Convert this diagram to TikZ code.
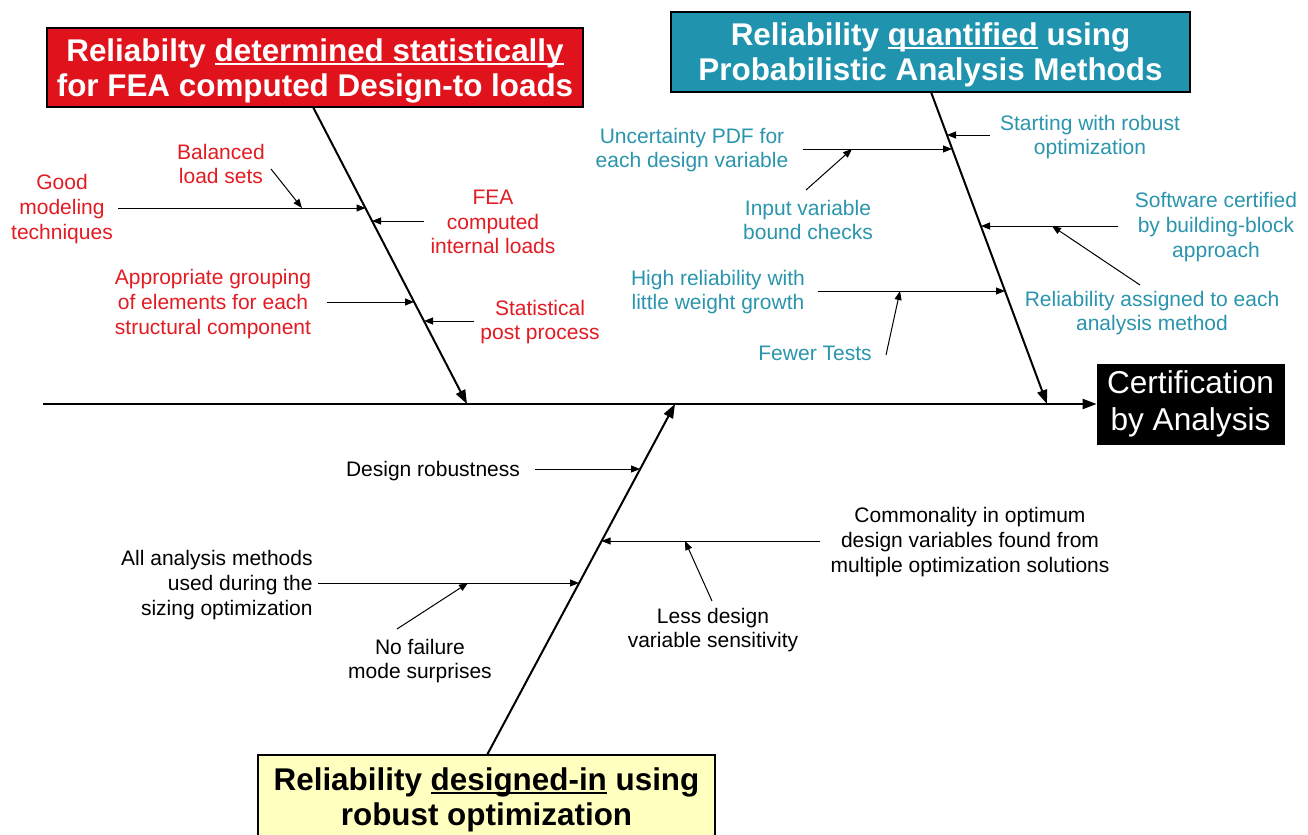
\documentclass[tikz,border=0pt]{standalone}
\usepackage{fontspec}
\setmainfont{Liberation Sans}
\usetikzlibrary{arrows.meta}
\definecolor{redc}{HTML}{E31B23}
\definecolor{redbox}{HTML}{E0131D}
\definecolor{tealbox}{HTML}{2094AE}
\definecolor{tealtxt}{HTML}{2A95AD}
\definecolor{yell}{HTML}{FFFFC0}
\newsavebox\ulbox
\newcommand\myul[1]{\sbox\ulbox{#1}\rlap{\rule[-1.7pt]{\wd\ulbox}{0.9pt}}\usebox\ulbox}
\newcommand\topstrut{\rule{0pt}{14.5pt}}
\tikzset{
 lbl/.style={align=center, font=\fontsize{10.5}{12.3}\selectfont, inner sep=0pt, yshift=-1pt},
 redlbl/.style={lbl, text=redc},
 teallbl/.style={lbl, text=tealtxt},
 blklbl/.style={lbl, text=black},
 titlebox/.style={draw=black, line width=1pt, align=center, font=\bfseries\fontsize{15.7}{17.5}\selectfont, inner sep=0pt},
 spine/.style={line width=1pt, -{Triangle[length=7pt,width=5pt]}},
 branch/.style={line width=0.5pt, -{Triangle[length=4.5pt,width=3.5pt]}},
}
\begin{document}
\begin{tikzpicture}[x=0.5pt,y=-0.5pt]
\useasboundingbox[fill=white] (0,0) rectangle (1308,835);

% title boxes
\node[titlebox, fill=redbox, text=white, minimum width=268pt, minimum height=39.5pt] (redt) at (315,67.5)
 {\topstrut Reliabilty \myul{determined statistically}\\for FEA computed Design-to loads};
\node[titlebox, fill=tealbox, text=white, minimum width=259.5pt, minimum height=40pt] (tealt) at (930.5,52)
 {\topstrut Reliability \myul{quantified} using\\Probabilistic Analysis Methods};
\node[titlebox, fill=yell, text=black, minimum width=228.5pt, minimum height=41.5pt] (yelt) at (486.5,796.5)
 {\topstrut Reliability \myul{designed-in} using\\robust optimization};
\node[draw=black, fill=black, text=white, align=center, inner sep=0pt, minimum width=93.5pt, minimum height=40pt,
 font=\fontsize{15.8}{18.5}\selectfont] (cert) at (1190.5,404) {Certification\\by Analysis};

% spines
\coordinate (mainstart) at (43,404);
\coordinate (rs) at (313,107);  \coordinate (re) at (467,404);
\coordinate (ts) at (931,92);   \coordinate (te) at (1047,404);
\coordinate (bs) at (487,755);  \coordinate (be) at (675,404);
\draw[spine] (mainstart) -- (cert.west);
\draw[spine] (rs) -- (re);
\draw[spine] (ts) -- (te);
\draw[spine] (bs) -- (be);

% red labels
\node[redlbl] (bal) at (221,162) {Balanced\\load sets};
\node[redlbl] (good) at (62,207) {Good\\modeling\\techniques};
\node[redlbl] (fea) at (493,220) {FEA\\computed\\internal loads};
\node[redlbl] (app) at (213,302) {Appropriate grouping\\of elements for each\\structural component};
\node[redlbl] (stat) at (540,320) {Statistical\\post process};

\coordinate (g0) at (118,208);  \coordinate (g1) at (365.5,208);
\coordinate (b0) at (271,169);  \coordinate (b1) at (302,208);
\coordinate (f0) at (424,221);  \coordinate (f1) at (372,221);
\coordinate (a0) at (327,302);  \coordinate (a1) at (414,302);
\coordinate (s0) at (474,321);  \coordinate (s1) at (424,321);
\draw[branch] (g0) -- (g1);
\draw[branch] (b0) -- (b1);
\draw[branch] (f0) -- (f1);
\draw[branch] (a0) -- (a1);
\draw[branch] (s0) -- (s1);

% teal labels
\node[teallbl] (start) at (1090,135) {Starting with robust\\optimization};
\node[teallbl] (unc) at (692,148) {Uncertainty PDF for\\each design variable};
\node[teallbl] (inp) at (808,218) {Input variable\\bound checks};
\node[teallbl] (soft) at (1216,225) {Software certified\\by building-block\\approach};
\node[teallbl] (rel) at (1152,311) {Reliability assigned to each\\analysis method};
\node[teallbl] (high) at (718,290) {High reliability with\\little weight growth};
\node[teallbl] (few) at (815,351) {Fewer Tests};

\coordinate (st0) at (990,135);  \coordinate (st1) at (947,135);
\coordinate (u0) at (803,149);   \coordinate (u1) at (952,149);
\coordinate (i0) at (806,190);   \coordinate (i1) at (852,149);
\coordinate (so0) at (1118,226); \coordinate (so1) at (981,226);
\coordinate (r0) at (1140,285);  \coordinate (r1) at (1052,226);
\coordinate (h0) at (818,291);   \coordinate (h1) at (1005,291);
\coordinate (fe0) at (886,355);  \coordinate (fe1) at (900,291);
\draw[branch] (st0) -- (st1);
\draw[branch] (u0) -- (u1);
\draw[branch] (i0) -- (i1);
\draw[branch] (so0) -- (so1);
\draw[branch] (r0) -- (r1);
\draw[branch] (h0) -- (h1);
\draw[branch] (fe0) -- (fe1);

% black labels
\node[blklbl] (rob) at (433,469) {Design robustness};
\node[blklbl] (com) at (970,540) {Commonality in optimum\\design variables found from\\multiple optimization solutions};
\node[blklbl] (less) at (713,628) {Less design\\variable sensitivity};
\node[blklbl, align=right, anchor=east] (all) at (313,583) {All analysis methods\\used during the\\sizing optimization};
\node[blklbl] (nof) at (420,659) {No failure\\mode surprises};

\coordinate (d0) at (535,469);  \coordinate (d1) at (640,469);
\coordinate (c0) at (820,541);  \coordinate (c1) at (601.6,541);
\coordinate (l0) at (712,601);  \coordinate (l1) at (685,541);
\coordinate (al0) at (318,583); \coordinate (al1) at (579,583);
\coordinate (n0) at (397,629);  \coordinate (n1) at (468,583);
\draw[branch] (d0) -- (d1);
\draw[branch] (c0) -- (c1);
\draw[branch] (l0) -- (l1);
\draw[branch] (al0) -- (al1);
\draw[branch] (n0) -- (n1);
\end{tikzpicture}
\end{document}
